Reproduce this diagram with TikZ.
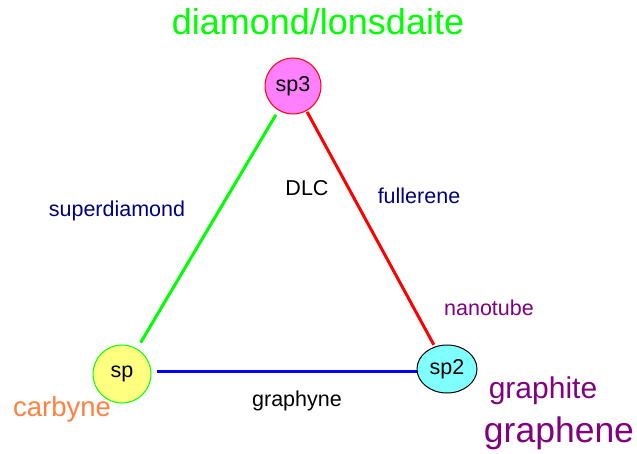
\documentclass[tikz,border=0pt]{standalone}
\usepackage{fontspec}
\setmainfont{Liberation Sans}
\usetikzlibrary{shapes.geometric}
\definecolor{cgreen}{RGB}{0,255,0}
\definecolor{cred}{RGB}{255,0,0}
\definecolor{cblue}{RGB}{0,0,255}
\definecolor{cnavy}{RGB}{0,0,128}
\definecolor{cpurple}{RGB}{128,0,128}
\definecolor{corange}{RGB}{255,128,64}
\definecolor{cpink}{RGB}{255,128,255}
\definecolor{cyellow}{RGB}{255,255,128}
\definecolor{ccyan}{RGB}{128,255,255}
\newcommand{\fsz}[1]{\fontsize{#1}{#1}\selectfont}
\begin{document}
\begin{tikzpicture}[x=1pt,y=-1pt,
  lbl/.style={inner sep=0pt,anchor=base,font=\fsz{21.5}},
  hybrid/.style={inner sep=0pt,line width=1pt,font=\fsz{21.5}},
  bond/.style={line width=3pt}]
\useasboundingbox (0,0) rectangle (637,454);
\node[hybrid,circle,draw=cred,fill=cpink,minimum size=56pt] (sp3) at (293,86) {sp3};
\node[hybrid,circle,draw=cgreen,fill=cyellow,minimum size=58pt] (sp) at (122,374) {sp};
\node[hybrid,ellipse,draw=black,fill=ccyan,minimum width=60pt,minimum height=48pt] (sp2) at (447,369) {sp2};
\draw[bond,cgreen,shorten <=5pt,shorten >=7pt] (sp3) -- (sp);
\draw[bond,cred,shorten <=1pt,shorten >=2pt] (sp3) -- (sp2);
\coordinate (bstart) at (157,371);
\draw[bond,cblue] (bstart) -- (bstart -| sp2.west);
\node[lbl,text=cgreen,font=\fsz{36}] (dia) at (318,35) {diamond/lonsdaite};
\node[lbl] (dlc) at (307,196) {DLC};
\node[lbl,text=cnavy] (sd) at (117,217) {superdiamond};
\node[lbl,text=cnavy] (ful) at (419,204) {fullerene};
\node[lbl,text=cpurple] (nt) at (489,316) {nanotube};
\node[lbl] (gy) at (297,406) {graphyne};
\node[lbl,text=corange,font=\fsz{27.5}] (cb) at (62,416) {carbyne};
\node[lbl,text=cpurple,font=\fsz{30}] (gt) at (543,398) {graphite};
\node[lbl,text=cpurple,font=\fsz{35.5}] (gn) at (559,442) {graphene};
\end{tikzpicture}
\end{document}
